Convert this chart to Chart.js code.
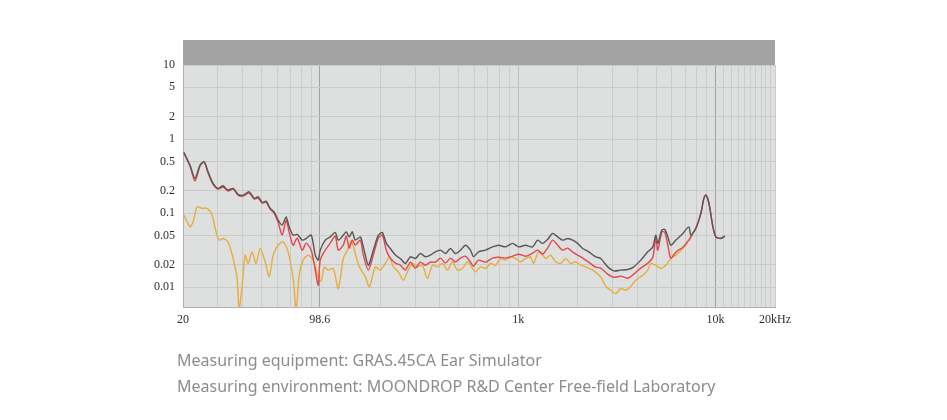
<!DOCTYPE html>
<html lang="en">
<head>
    <meta charset="UTF-8">
    <title>Frequency response</title>
    <script src="https://cdn.jsdelivr.net/npm/chart.js"></script>
    <style>
        body { margin: 0; background: #fff; }
        #wrap { position: relative; width: 947px; height: 420px; }
        .note { position: absolute; left: 177px; font-family: "Noto Sans", sans-serif; font-size: 16px; color: #8c8c8c; white-space: nowrap; }
    </style>
</head>
<body>
<div id="wrap">
    <canvas id="fr" width="947" height="420"></canvas>
    <div class="note" style="top:349px">Measuring equipment: GRAS.45CA Ear Simulator</div>
    <div class="note" style="top:375px">Measuring environment: MOONDROP R&amp;D Center Free-field Laboratory</div>
</div>
<script>
    // axis ticks
    var yTicks = [0.01, 0.02, 0.05, 0.1, 0.2, 0.5, 1, 2, 5, 10];
    var xGrid = [20, 30, 40, 50, 60, 70, 80, 90, 98.6, 200, 300, 400, 500, 600, 700, 800, 900,
        1000, 2000, 3000, 4000, 5000, 6000, 7000, 8000, 9000,
        10000, 11000, 12000, 13000, 14000, 15000, 16000, 17000, 18000, 19000, 20000];
    var xLabels = { 20: "20", 98.6: "98.6", 1000: "1k", 10000: "10k", 20000: "20kHz" };

    // series: dark grey curve
    var freqDark = [20.2, 21.7, 23.0, 24.4, 25.6, 26.8, 28.4, 30.1, 31.9, 33.8, 35.9, 38.0, 40.3, 43.3, 45.9, 48.1,
        50.4, 52.8, 55.3, 57.9, 60.7, 63.6, 66.7, 69.0, 72.3, 75.8, 80.4, 84.2, 89.3, 93.6, 96.9, 99.2,
        105.2, 111.5, 118.2, 122.4, 129.8, 134.4, 139.2, 144.2, 149.3, 158.3, 164.0, 173.9, 184.3, 195.4,
        204.8, 214.5, 224.7, 238.4, 252.7, 267.9, 284.0, 301.1, 319.2, 338.4, 358.7, 380.3, 403.3, 427.6,
        453.3, 480.5, 509.4, 540.1, 572.6, 593.1, 628.7, 682.4, 740.5, 794.3, 862.0, 935.5, 1004, 1089,
        1182, 1253, 1328, 1408, 1493, 1583, 1678, 1780, 1887, 2000, 2121, 2275, 2469, 2617, 2840, 3047,
        3306, 3587, 3850, 4177, 4532, 4806, 4977, 5095, 5339, 5529, 5726, 5930, 6286, 6825, 7319, 7492,
        7943, 8422, 8722, 8928, 9251, 9693, 10036, 10639, 11149];
    var ampDark = [0.661, 0.445, 0.294, 0.445, 0.493, 0.361, 0.252, 0.216, 0.234, 0.205, 0.216, 0.179, 0.175, 0.194, 0.158, 0.166,
        0.1395, 0.145, 0.1158, 0.1041, 0.0804, 0.0688, 0.0891, 0.0653, 0.0504, 0.0516, 0.0432, 0.0455, 0.0504, 0.0271, 0.0232, 0.0316,
        0.0432, 0.0478, 0.0548, 0.0432, 0.0504, 0.0559, 0.0478, 0.0559, 0.0432, 0.0478, 0.0350, 0.0198, 0.0316, 0.0504,
        0.0548, 0.0390, 0.0333, 0.0271, 0.0244, 0.0209, 0.0257, 0.0244, 0.0285, 0.0257, 0.0271, 0.0300, 0.0316, 0.0285,
        0.0333, 0.0285, 0.0316, 0.0369, 0.0316, 0.0257, 0.0300, 0.0316, 0.0350, 0.0369, 0.0350, 0.0390, 0.0350, 0.0369,
        0.0350, 0.0432, 0.0390, 0.0441, 0.0532, 0.0478, 0.0432, 0.0455, 0.0432, 0.0390, 0.0333, 0.0300, 0.0257, 0.0244, 0.0188, 0.0166,
        0.0170, 0.0173, 0.0188, 0.0232, 0.0300, 0.0350, 0.0504, 0.0390, 0.0589, 0.0602, 0.0478, 0.0369, 0.0432, 0.0532, 0.0653, 0.0504,
        0.0621, 0.0991, 0.158, 0.175, 0.1353, 0.0653, 0.0478, 0.0455, 0.0489];

    // series: red curve
    var freqRed = [20.2, 21.7, 23.0, 24.4, 25.6, 26.8, 28.4, 30.1, 31.9, 33.8, 35.9, 38.0, 40.3, 43.3, 45.9, 48.1,
        50.4, 52.8, 55.3, 57.9, 60.7, 63.6, 66.7, 69.0, 72.3, 75.8, 80.4, 84.2, 89.3, 93.6, 96.9, 99.2,
        105.2, 111.5, 118.2, 122.4, 129.8, 134.4, 139.2, 144.2, 149.3, 158.3, 164.0, 173.9, 184.3, 195.4,
        204.8, 214.5, 224.7, 238.4, 252.7, 267.9, 284.0, 301.1, 319.2, 338.4, 358.7, 380.3, 403.3, 427.6,
        453.3, 480.5, 509.4, 540.1, 572.6, 593.1, 628.7, 682.4, 740.5, 794.3, 862.0, 935.5, 1004, 1089,
        1182, 1253, 1328, 1408, 1493, 1583, 1678, 1780, 1887, 2000, 2121, 2275, 2469, 2617, 2840, 3047,
        3306, 3587, 3850, 4177, 4532, 4806, 4977, 5095, 5339, 5529, 5726, 5930, 6286, 6825, 7319, 7670,
        7943, 8422, 8722, 8928, 9251, 9693, 10036, 10639, 11149];
    var ampRed = [0.647, 0.432, 0.271, 0.432, 0.489, 0.347, 0.246, 0.211, 0.225, 0.198, 0.211, 0.175, 0.170, 0.186, 0.155, 0.159,
        0.1365, 0.1408, 0.1132, 0.100, 0.0755, 0.0504, 0.0804, 0.0554, 0.0369, 0.0459, 0.0316, 0.0393, 0.0316, 0.0170, 0.0106, 0.0232,
        0.0316, 0.0393, 0.0489, 0.0316, 0.0369, 0.0489, 0.0337, 0.0432, 0.0369, 0.0432, 0.0271, 0.0170, 0.0271, 0.0459,
        0.0504, 0.0316, 0.0247, 0.0211, 0.0198, 0.0170, 0.0218, 0.0181, 0.0218, 0.0198, 0.0218, 0.0218, 0.0247, 0.0211,
        0.0247, 0.0218, 0.0247, 0.0262, 0.0218, 0.0192, 0.0232, 0.0218, 0.0247, 0.0254, 0.0247, 0.0262, 0.0279, 0.0262,
        0.0288, 0.0316, 0.0279, 0.0337, 0.0432, 0.0369, 0.0316, 0.0337, 0.0297, 0.0271, 0.0247, 0.0218, 0.0186, 0.0181, 0.0150, 0.0136,
        0.0141, 0.0132, 0.0150, 0.0181, 0.0211, 0.0254, 0.0459, 0.0316, 0.0554, 0.0554, 0.0369, 0.0247, 0.0297, 0.0347, 0.0432, 0.0537,
        0.0627, 0.100, 0.159, 0.175, 0.1365, 0.0647, 0.0474, 0.0459, 0.0489];

    // series: orange curve
    var freqOrange = [20.2, 21.7, 22.5, 23.6, 25.0, 26.5, 28.1, 29.1, 30.5, 31.9, 33.8, 35.9, 37.6, 38.5, 39.9, 41.3,
        42.8, 44.8, 46.9, 49.2, 52.2, 54.7, 57.3, 60.7, 64.4, 68.2, 72.3, 74.9, 77.6, 81.3, 86.2, 91.4,
        96.9, 100.4, 103.9, 108.9, 115.5, 122.4, 129.8, 136.0, 142.5, 149.3, 156.5, 167.9, 175.9, 188.7,
        200.0, 212.1, 222.2, 232.8, 246.9, 261.7, 274.2, 290.8, 308.2, 326.8, 346.4, 367.3, 389.4, 412.8,
        437.6, 464.0, 491.7, 521.5, 552.8, 572.6, 607.1, 643.6, 682.4, 723.4, 766.9, 813.1, 862.0, 914.0,
        969.0, 1027, 1089, 1154, 1196, 1253, 1298, 1376, 1459, 1547, 1640, 1738, 1843, 1954, 2072, 2196,
        2384, 2617, 2774, 2941, 3119, 3306, 3505, 3716, 3939, 4276, 4532, 4695, 4977, 5277, 5594, 5930,
        6286, 6825, 7319, 7670];
    var ampOrange = [0.0940, 0.0653, 0.0763, 0.1217, 0.1158, 0.1158, 0.0940, 0.0621, 0.0432, 0.0455, 0.0410, 0.0244, 0.0131, 0.005, 0.0106, 0.0271,
        0.0209, 0.0300, 0.0209, 0.0333, 0.0220, 0.0138, 0.0271, 0.0369, 0.0410, 0.0300, 0.0131, 0.005, 0.0145, 0.0232, 0.0271, 0.0232,
        0.0138, 0.0121, 0.0186, 0.0170, 0.0179, 0.0096, 0.0244, 0.0316, 0.0422, 0.0285, 0.0188, 0.0138, 0.0101, 0.0188,
        0.0170, 0.0209, 0.0257, 0.0188, 0.0161, 0.0124, 0.0161, 0.0209, 0.0188, 0.0198, 0.0131, 0.0198, 0.0188, 0.0209,
        0.0170, 0.0220, 0.0170, 0.0179, 0.0220, 0.0198, 0.0161, 0.0188, 0.0179, 0.0209, 0.0198, 0.0244, 0.0232, 0.0257,
        0.0244, 0.0220, 0.0244, 0.0257, 0.0209, 0.0285, 0.0300, 0.0244, 0.0271, 0.0220, 0.0209, 0.0244, 0.0209, 0.0220, 0.0198, 0.0188,
        0.0170, 0.0138, 0.0103, 0.0091, 0.0082, 0.0096, 0.0091, 0.0103, 0.0124, 0.0145, 0.0170, 0.0209, 0.0198, 0.0179, 0.0198, 0.0244,
        0.0271, 0.0333, 0.0432, 0.0504];

    function pairs(fs, amps) {
        return fs.map(function (f, i) { return { x: f, y: amps[i] }; });
    }

    // plot background + dark band above the grid
    var backdrop = {
        id: "backdrop",
        beforeDraw: function (chart) {
            var c = chart.ctx, a = chart.chartArea;
            c.save();
            c.fillStyle = "#dedfdf";
            c.fillRect(a.left, a.top, a.right - a.left, a.bottom - a.top);
            c.fillStyle = "#a3a3a3";
            c.fillRect(a.left, a.top - 25, a.right - a.left, 25);
            c.restore();
        }
    };

    function gridColour(ctx) {
        var v = ctx.tick && ctx.tick.value;
        if (v === 98.6 || v === 10000) return "#a2a2a2";
        if (v === 1000) return "#bebebe";
        return "#cbcccc";
    }

    var tickFont = { family: "'Liberation Serif', serif", size: 12 };

    // first dataset is drawn on top
    var frChart = new Chart(document.getElementById("fr"), {
        type: "line",
        data: {
            datasets: [
                { label: "dark", data: pairs(freqDark, ampDark), borderColor: "#5b5656" },
                { label: "red", data: pairs(freqRed, ampRed), borderColor: "#e2474d" },
                { label: "orange", data: pairs(freqOrange, ampOrange), borderColor: "#e6ae3e" }
            ]
        },
        options: {
            responsive: false,
            animation: false,
            layout: { padding: { left: 100, right: 172, top: 65, bottom: 88 } },
            elements: {
                line: { borderWidth: 1.4, tension: 0.25 },
                point: { radius: 0 }
            },
            plugins: { legend: { display: false }, tooltip: { enabled: false } },
            scales: {
                x: {
                    type: "logarithmic",
                    min: 20,
                    max: 20000,
                    afterBuildTicks: function (s) { s.ticks = xGrid.map(function (v) { return { value: v }; }); },
                    afterFit: function (s) { s.height = 25; },
                    grid: { color: gridColour, drawTicks: false },
                    border: { color: "#b0b0b0" },
                    ticks: {
                        autoSkip: false, maxRotation: 0, padding: 6, color: "#2e2e2e", font: tickFont,
                        callback: function (v) { return xLabels[v] || ""; }
                    }
                },
                y: {
                    type: "logarithmic",
                    min: 0.0054,
                    max: 10,
                    afterBuildTicks: function (s) { s.ticks = yTicks.map(function (v) { return { value: v }; }); },
                    afterFit: function (s) { s.width = 83; },
                    grid: { color: "#c9caca", drawTicks: false },
                    border: { color: "#b0b0b0" },
                    ticks: {
                        padding: 8, color: "#2e2e2e", font: tickFont,
                        callback: function (v) { return String(v); }
                    }
                }
            }
        },
        plugins: [backdrop]
    });
</script>
</body>
</html>
